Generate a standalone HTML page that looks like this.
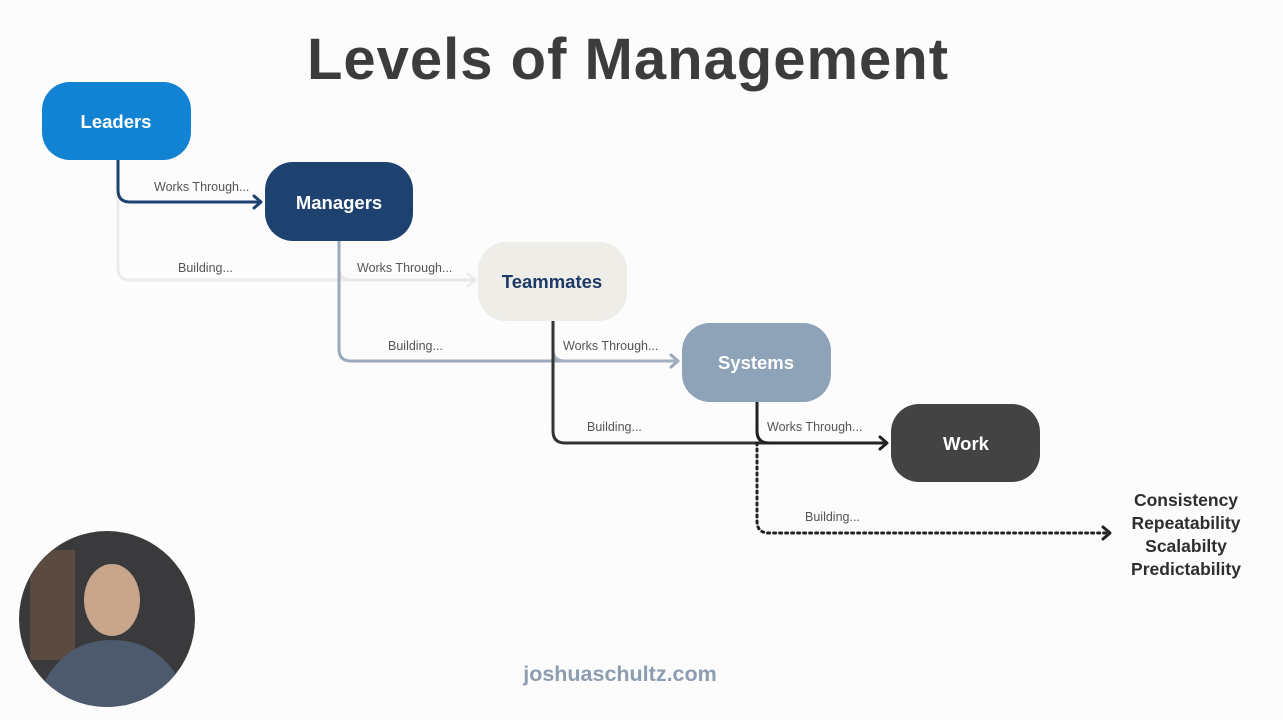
<!DOCTYPE html>
<html><head><meta charset="utf-8"><style>
html,body{margin:0;padding:0;background:#fcfcfc;}
svg{display:block}
.lbl{font-family:"Liberation Sans",sans-serif;font-size:12.5px;fill:#555;}
.n{font-family:"Liberation Sans",sans-serif;font-weight:bold;font-size:18.5px;text-anchor:middle;}
</style></head><body>
<svg width="1283" height="720" viewBox="0 0 1283 720" xmlns="http://www.w3.org/2000/svg">
<rect width="1283" height="720" fill="#fcfcfc"/>
<text x="628" y="79" text-anchor="middle" font-family="Liberation Sans,sans-serif" font-weight="bold" font-size="58" letter-spacing="1" fill="#3c3c3c">Levels of Management</text>

<g fill="none" stroke-width="3" stroke-linecap="round" stroke-linejoin="round">
<path d="M118 160 V268 Q118 280 130 280 H474" stroke="#ececec"/>
<path d="M468 274 L475 280 L468 286" stroke="#ececec"/>
<path d="M339 241 V268 Q339 280 351 280 H474" stroke="#e9e7e7"/>
<path d="M339 241 V349 Q339 361 351 361 H677" stroke="#9ba9ba"/>
<path d="M671 355 L678 361 L671 367" stroke="#9ba9ba"/>
<path d="M553 321 V350 Q553 361 565 361 H677" stroke="#a3b0c0"/>
<path d="M553 321 V431 Q553 443 565 443 H886" stroke="#333"/>
<path d="M757 402 V431 Q757 443 769 443 H886" stroke="#222"/>
<path d="M880 437 L887 443 L880 449" stroke="#222"/>
<path d="M118 160 V190 Q118 202 130 202 H260" stroke="#1d4270"/>
<path d="M254 196 L261 202 L254 208" stroke="#1d4270"/>
<path d="M757 443 V521 Q757 533 769 533 H1106" stroke="#222" stroke-dasharray="2 4"/>
<path d="M1103 527 L1110 533 L1103 539" stroke="#222"/>
</g>

<text class="lbl" x="154" y="191">Works Through...</text>
<text class="lbl" x="178" y="272">Building...</text>
<text class="lbl" x="357" y="272">Works Through...</text>
<text class="lbl" x="388" y="350">Building...</text>
<text class="lbl" x="563" y="350">Works Through...</text>
<text class="lbl" x="587" y="431">Building...</text>
<text class="lbl" x="767" y="431">Works Through...</text>
<text class="lbl" x="805" y="521">Building...</text>

<rect x="42" y="82" width="149" height="78" rx="28" fill="#1282d3"/>
<text class="n" x="116" y="128" fill="#fff">Leaders</text>
<rect x="265" y="162" width="148" height="79" rx="28" fill="#1d4270"/>
<text class="n" x="339" y="209" fill="#fff">Managers</text>
<rect x="478" y="242" width="149" height="79" rx="28" fill="#efede8"/>
<text class="n" x="552" y="288" fill="#1d3a66">Teammates</text>
<rect x="682" y="323" width="149" height="79" rx="28" fill="#8ea3b8"/>
<text class="n" x="756" y="369" fill="#fff">Systems</text>
<rect x="891" y="404" width="149" height="78" rx="28" fill="#434343"/>
<text class="n" x="966" y="450" fill="#fff">Work</text>

<g font-family="Liberation Sans,sans-serif" font-weight="bold" font-size="17.5" fill="#2e2e2e" text-anchor="middle">
<text x="1186" y="506">Consistency</text>
<text x="1186" y="529">Repeatability</text>
<text x="1186" y="552">Scalabilty</text>
<text x="1186" y="575">Predictability</text>
</g>

<defs><clipPath id="c"><circle cx="107" cy="619" r="88"/></clipPath></defs>
<g clip-path="url(#c)">
<rect x="0" y="520" width="220" height="200" fill="#3a3a3c"/>
<rect x="30" y="550" width="45" height="110" fill="#5a4a40"/>
<ellipse cx="112" cy="600" rx="28" ry="36" fill="#c9a58c"/>
<path d="M30 720 Q50 640 112 640 Q175 640 195 720 Z" fill="#4d5a6e"/>
</g>

<text x="620" y="681" text-anchor="middle" font-family="Liberation Sans,sans-serif" font-weight="bold" font-size="21.5" fill="#8d9db0">joshuaschultz.com</text>
</svg>
</body></html>
